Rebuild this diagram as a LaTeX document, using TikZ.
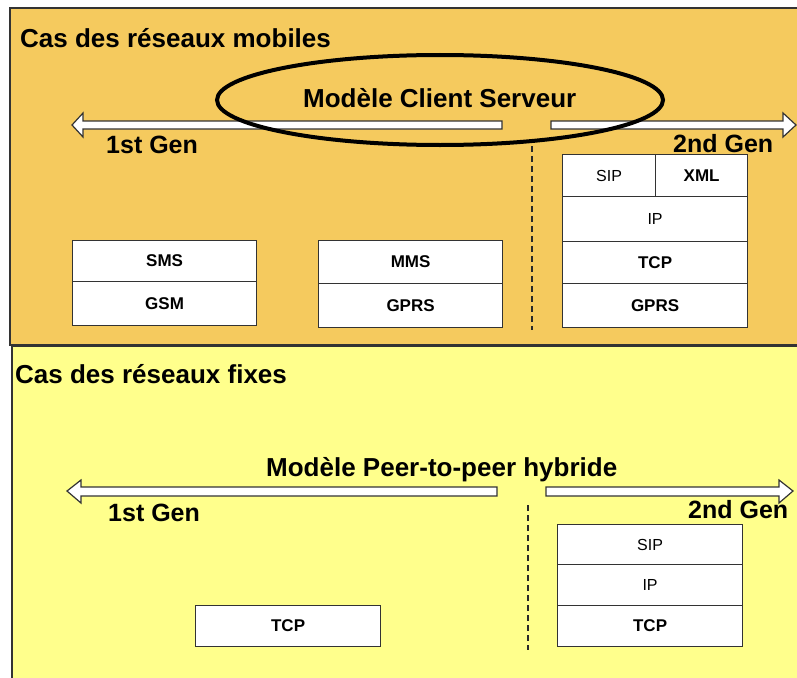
\documentclass[tikz,border=0pt]{standalone}
\usepackage{fontspec}
\setmainfont{Liberation Sans}
\definecolor{mobilebg}{HTML}{F5CA5E}
\definecolor{fixedbg}{HTML}{FFFF8C}
\definecolor{edge}{HTML}{333333}
\begin{document}
\begin{tikzpicture}[x=1pt,y=-1pt,
  panel/.style={draw=edge, line width=1.3pt},
  title/.style={inner sep=0pt, anchor=base west, font=\fontsize{26}{30}\selectfont\bfseries},
  genlabel/.style={inner sep=0pt, anchor=base west, font=\fontsize{25}{30}\selectfont\bfseries},
  cell/.style={draw=edge, fill=white, line width=1.2pt, inner sep=0pt, anchor=north west,
    font=\fontsize{17}{20}\selectfont\bfseries},
  thincell/.style={cell, font=\fontsize{16}{20}\selectfont},
  band/.style={draw=edge, fill=white, line width=1.2pt, line join=miter},
  sep/.style={draw=edge!80!black, line width=1.2pt, dash pattern=on 6pt off 4pt}]
\useasboundingbox (0,0) rectangle (797,677);
\fill[white] (0,0) rectangle (797,677);

% panels
\fill[mobilebg] (10,8) rectangle (800,345);
\draw[panel] (800,8) -- (10,8) -- (10,345) -- (800,345);
\fill[fixedbg] (12,346) rectangle (800,680);
\draw[panel] (12,680) -- (12,346) -- (800,346);

% ---- mobile networks ----
\node[title] (mtitle) at (20,48) {Cas des réseaux mobiles};

% generation bands
\draw[band] (502,121) -- (83,121) -- (83,113) -- (72,125) -- (83,137) -- (83,129) -- (502,129) -- cycle;
\draw[band] (551,121) -- (783,121) -- (783,113) -- (796,125) -- (783,137) -- (783,129) -- (551,129) -- cycle;
\node[genlabel] (mgen1) at (106,153) {1st Gen};
\node[genlabel] (mgen2) at (673,152) {2nd Gen};

% client-server model
\draw[line width=4pt] (440,100) ellipse [x radius=223, y radius=45];
\node[title] (cs) at (303,107) {Modèle Client Serveur};

\coordinate (msepA) at (532,146);
\coordinate (msepB) at (532,330);
\draw[sep] (msepA) -- (msepB);

% first generation stacks
\node[cell, minimum width=184pt, minimum height=41pt] (sms) at (72,240) {SMS};
\node[cell, minimum width=184pt, minimum height=44pt] (gsm) at (72,281) {GSM};
\node[cell, minimum width=184pt, minimum height=43pt] (mms) at (318,240) {MMS};
\node[cell, minimum width=184pt, minimum height=44pt] (gprs1) at (318,283) {GPRS};

% second generation stack
\node[thincell, minimum width=93pt, minimum height=42pt] (sip1) at (562,154) {SIP};
\node[cell, minimum width=92pt, minimum height=42pt] (xml) at (655,154) {XML};
\node[thincell, minimum width=185pt, minimum height=45pt] (ip1) at (562,196) {IP};
\node[cell, minimum width=185pt, minimum height=42pt] (tcp1) at (562,241) {TCP};
\node[cell, minimum width=185pt, minimum height=44pt] (gprs2) at (562,283) {GPRS};

% ---- fixed networks ----
\node[title] (ftitle) at (15,383) {Cas des réseaux fixes};
\node[title] (p2p) at (266,476) {Modèle Peer-to-peer hybride};

\draw[band] (497,487) -- (81,487) -- (81,480) -- (67,491) -- (81,503) -- (81,496) -- (497,496) -- cycle;
\draw[band] (546,487) -- (779,487) -- (779,480) -- (793,491) -- (779,503) -- (779,496) -- (546,496) -- cycle;
\node[genlabel] (fgen1) at (108,521) {1st Gen};
\node[genlabel] (fgen2) at (688,518) {2nd Gen};

\coordinate (fsepA) at (528,505);
\coordinate (fsepB) at (528,650);
\draw[sep] (fsepA) -- (fsepB);

\node[cell, minimum width=185pt, minimum height=41pt] (tcp2) at (195,605) {TCP};

\node[thincell, minimum width=185pt, minimum height=40pt] (sip2) at (557,524) {SIP};
\node[thincell, minimum width=185pt, minimum height=41pt] (ip2) at (557,564) {IP};
\node[cell, minimum width=185pt, minimum height=41pt] (tcp3) at (557,605) {TCP};
\end{tikzpicture}
\end{document}
